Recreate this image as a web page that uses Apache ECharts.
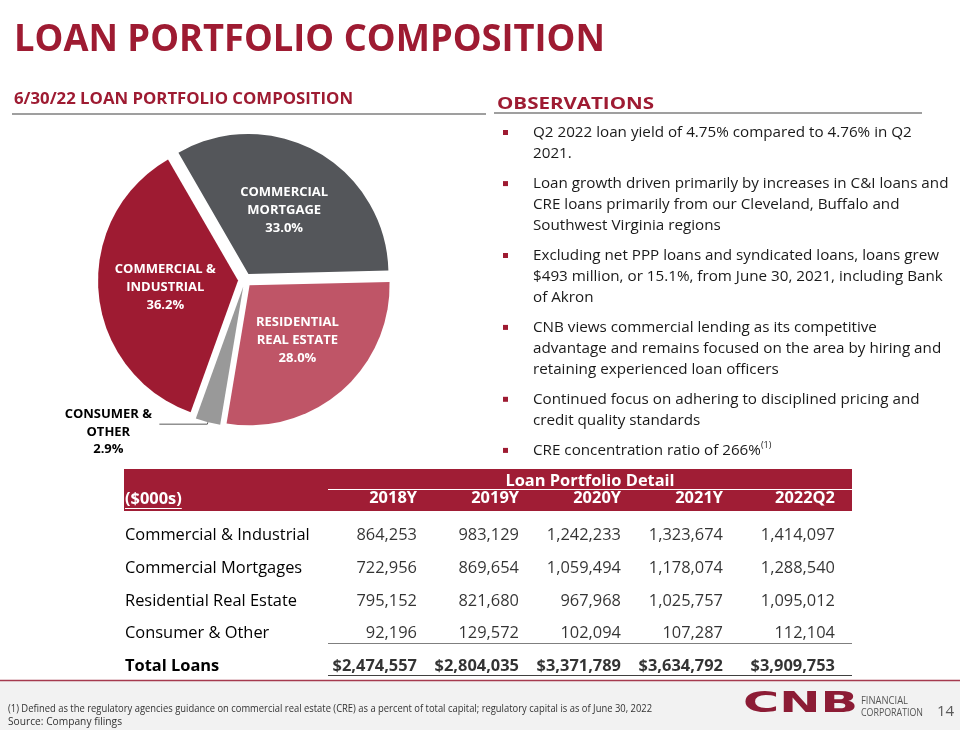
<!DOCTYPE html>
<html><head><meta charset="utf-8">
<script src="https://cdn.jsdelivr.net/npm/echarts@6/dist/echarts.min.js"></script>
<style>html,body{margin:0;padding:0;background:#fff}#c{width:960px;height:730px}</style>
</head><body><div id="c"></div><script>
// ---------------- DATA ----------------
const columns = ['2018Y', '2019Y', '2020Y', '2021Y', '2022Q2'];
const rows = ['Commercial & Industrial', 'Commercial Mortgages', 'Residential Real Estate', 'Consumer & Other', 'Total Loans'];
const commercialIndustrial = [864253, 983129, 1242233, 1323674, 1414097];
const commercialMortgages = [722956, 869654, 1059494, 1178074, 1288540];
const residentialRealEstate = [795152, 821680, 967968, 1025757, 1095012];
const consumerOther = [92196, 129572, 102094, 107287, 112104];
const totalLoans = [2474557, 2804035, 3371789, 3634792, 3909753];
const pieNames = ['COMMERCIAL\nMORTGAGE', 'RESIDENTIAL\nREAL ESTATE', 'CONSUMER &\nOTHER', 'COMMERCIAL &\nINDUSTRIAL'];
const observations = [
  ['Q2 2022 loan yield of 4.75% compared to 4.76% in Q2', '2021.'],
  ['Loan growth driven primarily by increases in C&I loans and', 'CRE loans primarily from our Cleveland, Buffalo and', 'Southwest Virginia regions'],
  ['Excluding net PPP loans and syndicated loans, loans grew', '$493 million, or 15.1%, from June 30, 2021, including Bank', 'of Akron'],
  ['CNB views commercial lending as its competitive', 'advantage and remains focused on the area by hiring and', 'retaining experienced loan officers'],
  ['Continued focus on adhering to disciplined pricing and', 'credit quality standards'],
  ['CRE concentration ratio of 266%^(1)']
];
const titleText = 'LOAN PORTFOLIO COMPOSITION';
const subtitleText = '6/30/22 LOAN PORTFOLIO COMPOSITION';
const obsTitle = 'OBSERVATIONS';
const tableTitle = 'Loan Portfolio Detail';
const unitText = '($000s)';
const footnote = '(1) Defined as the regulatory agencies guidance on commercial real estate (CRE) as a percent of total capital; regulatory capital is as of June 30, 2022';
const sourceText = 'Source: Company filings';
const pageNumber = '14';

// ---------------- LAYOUT / STYLE ----------------
const RED = '#9e1b32';
const FF = '"Open Sans", sans-serif';
const mctx = document.createElement('canvas').getContext('2d');
function measure(str, font) { mctx.font = font; return mctx.measureText(str).width; }
function txt(str, x, y, size, weight, color, targetW, extra) {
  const font = weight + ' ' + size + 'px ' + FF;
  const s = targetW ? targetW / measure(str, font) : 1;
  return Object.assign({
    type: 'text', x: x, y: y, scaleX: s, silent: true,
    style: { text: str, font: font, fill: color, align: 'left', verticalAlign: 'middle', textAlign: 'left', textVerticalAlign: 'middle' }
  }, extra || {});
}
function hline(x1, x2, y, color, w) {
  return { type: 'line', silent: true, shape: { x1: x1, y1: y, x2: x2, y2: y }, style: { stroke: color, lineWidth: w } };
}
const fmt = v => v.toLocaleString('en-US');

const obsSize = 14 * 379 / measure(observations[0][0], '14px ' + FF);
const tabSize = 15 * 185 / measure(rows[0], '15px ' + FF);

const tableRows = [commercialIndustrial, commercialMortgages, residentialRealEstate, consumerOther, totalLoans];
const scatterData = [];
tableRows.forEach((arr, r) => arr.forEach((v, c) => {
  scatterData.push({
    value: [c, r, v],
    label: { offset: [c === 4 ? 52 : 42, 0], fontWeight: r === 4 ? 'bold' : 'normal' }
  });
}));

const pieValues = [commercialMortgages[4], residentialRealEstate[4], consumerOther[4], commercialIndustrial[4]];
const pieColors = ['#54565a', '#bf5567', '#999999', '#9e1b32'];
const pieData = pieValues.map((v, i) => {
  const d = { name: pieNames[i], value: v, selected: true, itemStyle: { color: pieColors[i] } };
  if (i === 2) {
    d.label = { position: 'outside', color: '#000' };
    d.labelLine = { show: true, length: 2, length2: 48, lineStyle: { color: '#595959', width: 1 } };
  }
  return d;
});

// graphic elements
const G = [];
G.push(txt(titleText, 14, 40, 38, 'bold', RED, 591));
G.push(txt(subtitleText, 14, 99, 16, 'bold', RED, 339));
G.push(hline(12, 486, 114, '#7f7f7f', 1.3));
G.push(txt(obsTitle, 497, 104, 16, 'bold', RED, 157));
G.push(hline(494, 922, 113, '#7f7f7f', 1.3));

// observations
let oy = 133;
observations.forEach(lines => {
  G.push({ type: 'rect', silent: true, shape: { x: 503, y: oy - 3, width: 5, height: 5 }, style: { fill: RED } });
  lines.forEach((ln, k) => {
    const y = oy + k * 20.8;
    if (ln.indexOf('^') >= 0) {
      const parts = ln.split('^');
      G.push({
        type: 'text', x: 533, y: y, silent: true,
        style: {
          text: '{n|' + parts[0] + '}{s|' + parts[1] + '}', align: 'left', verticalAlign: 'middle', textAlign: 'left', textVerticalAlign: 'middle',
          rich: { n: { fontSize: obsSize, fontFamily: FF, fill: '#1a1a1a', color: '#1a1a1a' },
                  s: { fontSize: 9, fontFamily: FF, fill: '#1a1a1a', color: '#1a1a1a', padding: [0, 0, 11, 0] } }
        }
      });
    } else {
      G.push(txt(ln, 533, y, obsSize, 'normal', '#1a1a1a'));
    }
  });
  oy += (lines.length - 1) * 20.8 + 30.3;
});

// table header band
G.push({ type: 'rect', silent: true, z: -1, shape: { x: 124, y: 469, width: 728, height: 42 }, style: { fill: '#a01d35' } });
G.push(hline(328, 852, 489.5, '#ffffff', 1));
G.push(txt(tableTitle, 590, 481, tabSize, 'bold', '#ffffff'));
G[G.length - 1].style.align = 'center'; G[G.length - 1].style.textAlign = 'center';
G.push(txt(unitText, 125, 499, tabSize, 'bold', '#ffffff'));
G.push(hline(125, 125 + measure(unitText, 'bold ' + tabSize + 'px ' + FF), 508.5, '#ffffff', 1));
G.push(hline(328, 852, 643.5, '#7f7f7f', 1));
G.push(hline(328, 852, 675.5, '#404040', 1.2));

// footer
G.push({ type: 'rect', silent: true, shape: { x: 0, y: 681, width: 960, height: 49 }, style: { fill: '#f2f2f2' } });
G.push(hline(0, 960, 680.5, '#a53a4e', 1.5));
G.push(txt(footnote, 8, 709, 11, 'normal', '#333333', 644));
G.push(txt(sourceText, 8, 722, 11, 'normal', '#333333', 114));
G.push(txt('CNB', 743, 704, 28, '900', '#8c1c35', 115, {}));
G[G.length - 1].style.font = '900 29px "DejaVu Sans", sans-serif';
G[G.length - 1].scaleX = 115 / measure('CNB', '900 29px "DejaVu Sans", sans-serif');
G.push(txt('FINANCIAL', 861, 701, 10.5, 'normal', '#555555', 47));
G.push(txt('CORPORATION', 861, 713, 10.5, 'normal', '#555555', 62));
G.push(txt(pageNumber, 937, 712, 15, 'normal', '#595959'));

const chart = echarts.init(document.getElementById('c'), null, { renderer: 'canvas', width: 960, height: 730 });
chart.setOption({
  animation: false,
  backgroundColor: '#ffffff',
  grid: { left: 324, top: 519, width: 510, height: 164, containLabel: false, outerBoundsMode: 'none' },
  xAxis: {
    type: 'category', data: columns, position: 'top',
    axisLine: { show: false }, axisTick: { show: false }, splitLine: { show: false },
    axisLabel: {
      interval: 0, margin: 13,
      formatter: (v, i) => '{' + (i === 4 ? 'b' : 'a') + '|' + v + '}',
      rich: {
        a: { width: 84, align: 'right', color: '#fff', fontWeight: 'bold', fontSize: tabSize, fontFamily: FF },
        b: { width: 104, align: 'right', color: '#fff', fontWeight: 'bold', fontSize: tabSize, fontFamily: FF }
      }
    }
  },
  yAxis: {
    type: 'category', data: rows, inverse: true,
    axisLine: { show: false }, axisTick: { show: false }, splitLine: { show: false },
    axisLabel: {
      interval: 0, align: 'left', margin: 199, color: '#000', fontSize: tabSize, fontFamily: FF,
      formatter: v => v === 'Total Loans' ? '{b|' + v + '}' : v,
      rich: { b: { fontWeight: 'bold', fontSize: tabSize, fontFamily: FF, color: '#000' } }
    }
  },
  series: [
    {
      type: 'pie', center: [245, 280], radius: [0, 140], startAngle: 120, clockwise: true,
      selectedMode: 'multiple', selectedOffset: 7, avoidLabelOverlap: false,
      emphasis: { disabled: true },
      label: {
        position: 'inside', color: '#fff', fontWeight: 'bold', fontSize: 13, lineHeight: 18, fontFamily: FF,
        formatter: p => {
          const pct = p.percent.toFixed(1) + '%';
          if (p.dataIndex === 2) return p.name.split('\n').concat([pct]).map(s => '{c|' + s + '}').join('\n');
          return p.name + '\n' + pct;
        },
        rich: { c: { width: 92, align: 'center', fontWeight: 'bold', fontSize: 13, lineHeight: 17.5, color: '#000', fontFamily: FF } }
      },
      labelLayout: p => (p.dataIndex === 2 ? { dy: 8 } : {}),
      data: pieData
    },
    {
      type: 'scatter', data: scatterData, symbolSize: 1, silent: true,
      itemStyle: { color: 'rgba(0,0,0,0)' },
      label: {
        show: true, position: 'inside', align: 'right', verticalAlign: 'middle',
        color: '#000', fontSize: tabSize, fontFamily: FF,
        formatter: p => (p.value[1] === 4 ? '$' : '') + fmt(p.value[2])
      }
    }
  ],
  graphic: { elements: G }
});
</script></body></html>
